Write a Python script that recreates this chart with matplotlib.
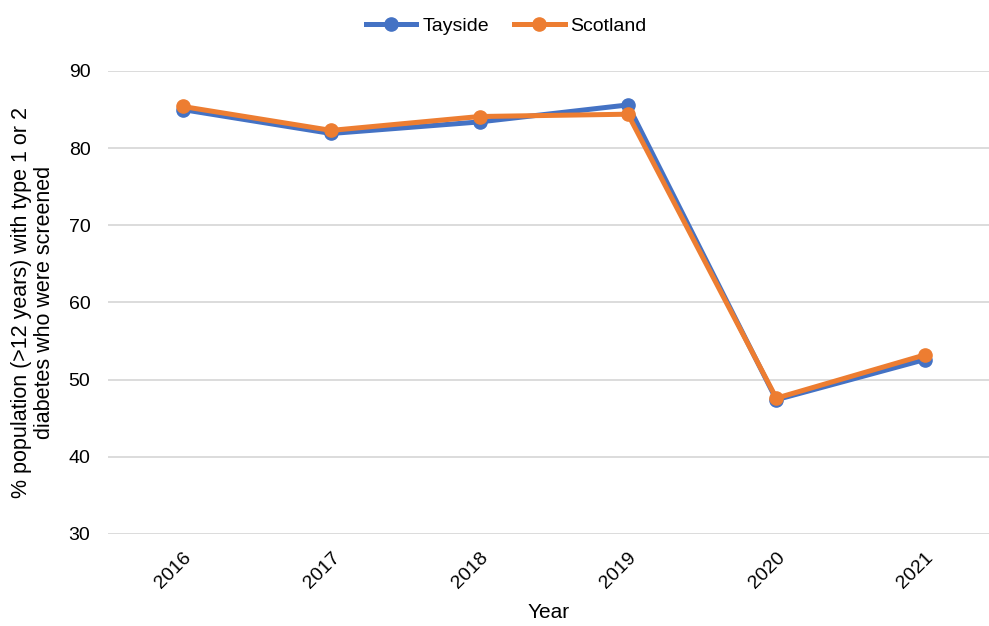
import matplotlib
matplotlib.use("Agg")
import matplotlib.pyplot as plt

years = ["2016", "2017", "2018", "2019", "2020", "2021"]
tayside = [85.0, 81.9, 83.4, 85.6, 47.4, 52.6]
scotland = [85.4, 82.3, 84.1, 84.4, 47.6, 53.2]

plt.rcParams['font.family'] = ['Liberation Sans', 'DejaVu Sans']

fig = plt.figure(figsize=(9.89, 6.26), dpi=100)
ax = fig.add_axes([0.1097, 0.147, 0.8903, 0.7396])

x = list(range(len(years)))
ax.plot(x, tayside, color='#4472C4', lw=3.6, marker='o', ms=9.5, label='Tayside', zorder=3)
ax.plot(x, scotland, color='#ED7D31', lw=3.6, marker='o', ms=9.5, label='Scotland', zorder=4)

ax.set_ylim(30, 90)
ax.set_yticks(range(30, 91, 10))
ax.set_xlim(-0.5, 5.433)
ax.set_xticks(x)
ax.set_xticklabels(years, rotation=45, ha='right', rotation_mode='anchor')

ax.grid(axis='y', color='#D9D9D9', lw=1.3)
ax.set_axisbelow(True)
for s in ax.spines.values():
    s.set_visible(False)
ax.tick_params(axis='both', length=0, labelsize=14, colors='#000000')
ax.tick_params(axis='y', pad=13)
ax.tick_params(axis='x', pad=11)

ax.set_ylabel("% population (>12 years) with type 1 or 2\ndiabetes who were screened",
              fontsize=15.5, labelpad=10, linespacing=1.1)
ax.set_xlabel("Year", fontsize=15, labelpad=8)

leg = fig.legend(loc='upper center', bbox_to_anchor=(0.512, 1.0), ncol=2, frameon=False,
                 fontsize=14, handlelength=2.6, columnspacing=1.3, handletextpad=0.3)

fig.savefig("out.png", dpi=100)
